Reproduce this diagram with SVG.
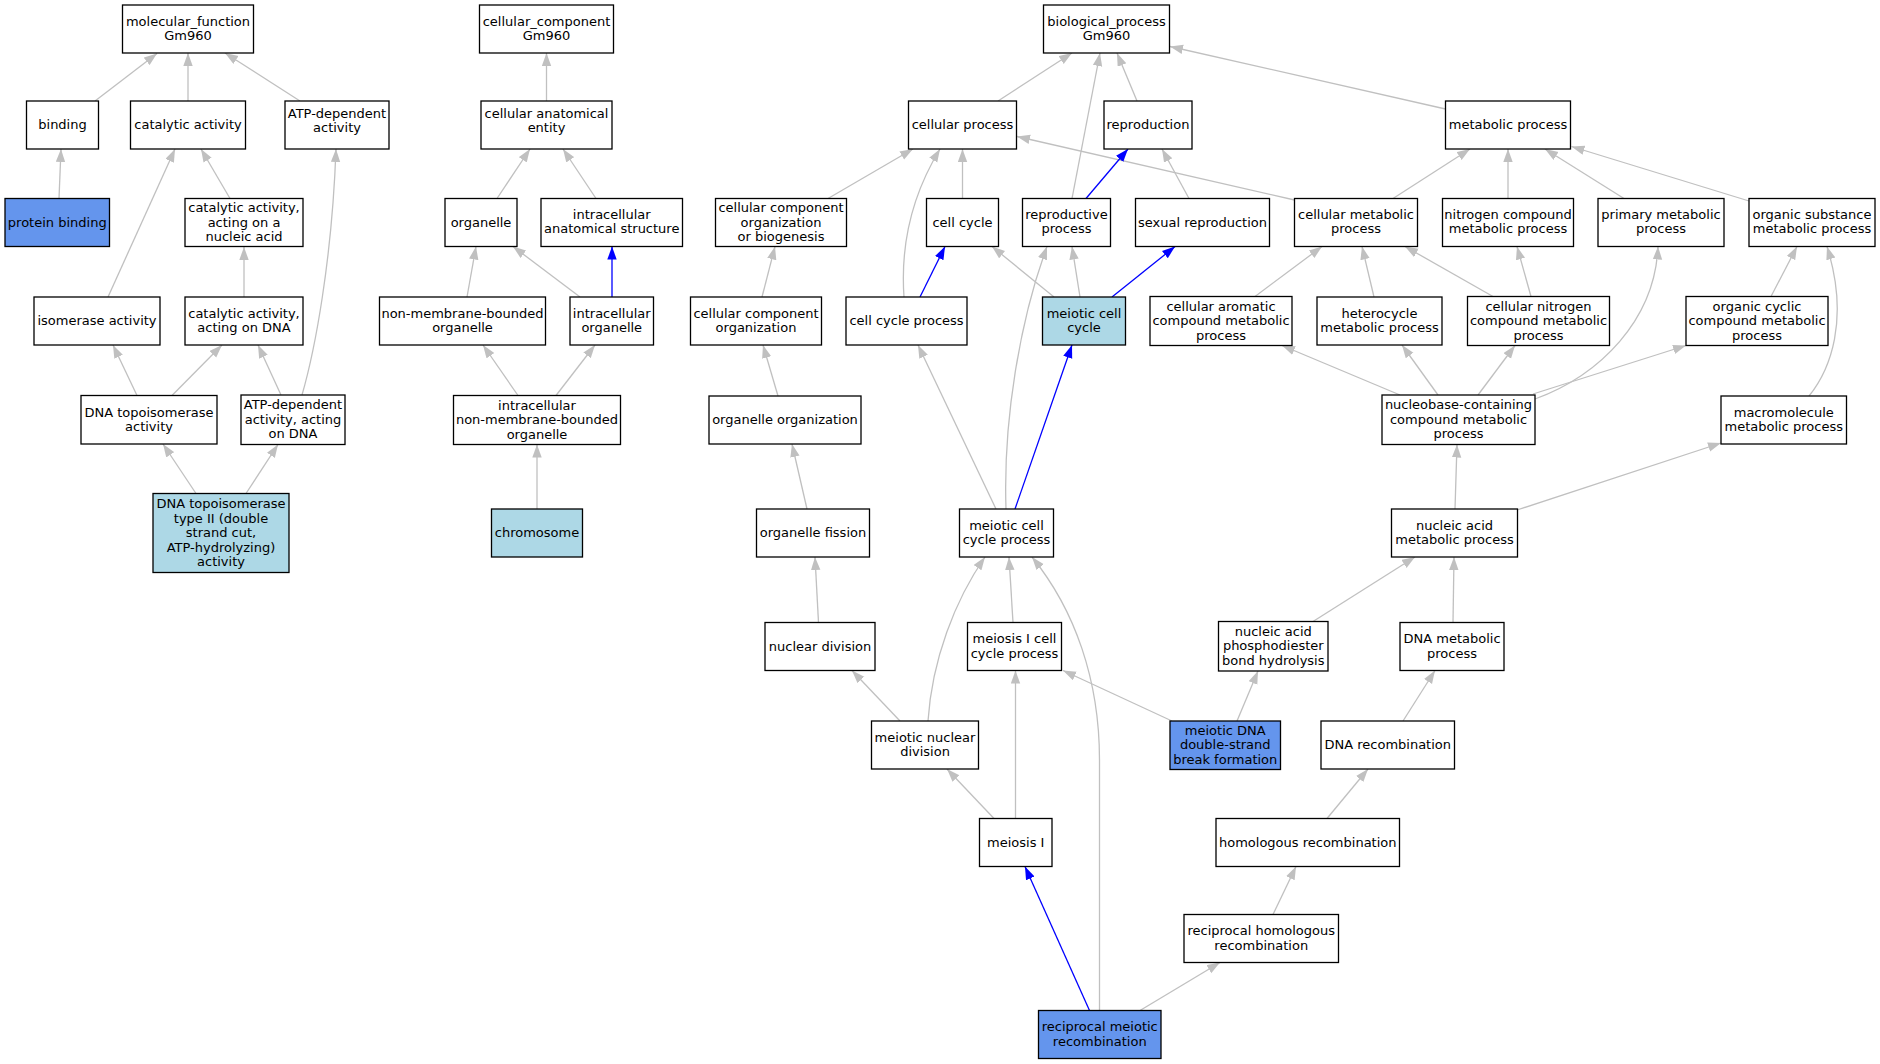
<svg xmlns="http://www.w3.org/2000/svg" width="1880" height="1064" viewBox="0 0 1880 1064">
<style>
.n rect{fill:#fff;stroke:#000;stroke-width:1.3}
.n text{font-family:"DejaVu Sans","Liberation Sans",sans-serif;font-size:13px;text-anchor:middle;fill:#000}
.lb rect{fill:#ADD8E6}
.cb rect{fill:#6495ED}
.e{fill:none;stroke:#C0C0C0;stroke-width:1.3;marker-end:url(#ag)}
.e.b{stroke:#0000FF;marker-end:url(#ab)}
</style>
<defs>
<marker id="ag" markerUnits="userSpaceOnUse" markerWidth="14" markerHeight="10" refX="13" refY="4.7" orient="auto"><path d="M0,0 L13,4.7 L0,9.4 z" fill="#C0C0C0"/></marker>
<marker id="ab" markerUnits="userSpaceOnUse" markerWidth="14" markerHeight="10" refX="13" refY="4.7" orient="auto"><path d="M0,0 L13,4.7 L0,9.4 z" fill="#0000FF"/></marker>
</defs>
<rect x="0" y="0" width="1880" height="1064" fill="#fff"/>
<g id="edges">
<path class="e" d="M95,101 L157,53.5"/>
<path class="e" d="M188,101 L188,53"/>
<path class="e" d="M300,101 L225,53"/>
<path class="e" d="M59,198.5 L61,149"/>
<path class="e" d="M108,297 L175,149"/>
<path class="e" d="M230,198.5 L201,149"/>
<path class="e" d="M244,297 L244,247"/>
<path class="e" d="M302,395 C315,350 332,260 336,149"/>
<path class="e" d="M137,395.5 L113,345"/>
<path class="e" d="M172,395.5 L222,345"/>
<path class="e" d="M281,395 L258,345"/>
<path class="e" d="M196,493.5 L163,444"/>
<path class="e" d="M246,493.5 L278,444.5"/>
<path class="e" d="M546.5,101 L546.5,53"/>
<path class="e" d="M497,198.5 L530,149"/>
<path class="e" d="M596,198.5 L563,149"/>
<path class="e" d="M467,297 L476,246.5"/>
<path class="e" d="M580,297 L513,246.5"/>
<path class="e b" d="M612,297 L612,246.5"/>
<path class="e" d="M518,395.5 L483,345"/>
<path class="e" d="M556,395.5 L595,345"/>
<path class="e" d="M537,509 L537,444.5"/>
<path class="e" d="M828,198.5 L913,149"/>
<path class="e" d="M762,297 L775,246.5"/>
<path class="e" d="M778,396 L763,345"/>
<path class="e" d="M807,509 L792,444"/>
<path class="e" d="M818.5,622.5 L815,557"/>
<path class="e" d="M900,721 L852,670.5"/>
<path class="e" d="M998,101 L1072,53"/>
<path class="e" d="M1072,198.5 L1100,53"/>
<path class="e" d="M1137,101 L1117,53"/>
<path class="e" d="M1445.5,109 L1170,46.5"/>
<path class="e" d="M962.5,198.5 L962.5,149"/>
<path class="e" d="M904,297 C900,240 915,190 940,149"/>
<path class="e" d="M1294.5,200 L1017,136.5"/>
<path class="e b" d="M1086,198.5 L1128,149"/>
<path class="e" d="M1189,198.5 L1162,149"/>
<path class="e b" d="M920,297 L945,246.5"/>
<path class="e" d="M1054,297 L992,246.5"/>
<path class="e" d="M1080,297 L1072,246.5"/>
<path class="e b" d="M1112,297 L1175,246.5"/>
<path class="e" d="M1255,296.5 L1322,246.5"/>
<path class="e" d="M1393,198.5 L1470,149"/>
<path class="e" d="M1508,198.5 L1508,149"/>
<path class="e" d="M1624,198.5 L1545,149"/>
<path class="e" d="M1749,201 L1571.5,146.5"/>
<path class="e" d="M1374,297 L1362,246.5"/>
<path class="e" d="M1493,296.5 L1405,246.5"/>
<path class="e" d="M1531,296.5 L1517,246.5"/>
<path class="e" d="M1771,296.5 L1797,246.5"/>
<path class="e" d="M1809,396 C1830,370 1850,320 1827,246.5"/>
<path class="e" d="M1400,395 L1282,345.5"/>
<path class="e" d="M1438,395 L1402,345"/>
<path class="e" d="M1478,395 L1515,345.5"/>
<path class="e" d="M1535,399 C1600,375 1655,320 1658,246.5"/>
<path class="e" d="M1533,394 L1686,345.5"/>
<path class="e" d="M996,509 L918,345"/>
<path class="e" d="M1006,509 C1003,420 1020,320 1047,246.5"/>
<path class="e b" d="M1015,509 L1072,345"/>
<path class="e" d="M1455,509 L1457,444.5"/>
<path class="e" d="M1517,510 L1721,443"/>
<path class="e" d="M1013,622.5 L1009,557"/>
<path class="e" d="M928,721 C932,660 955,600 985,557"/>
<path class="e" d="M1099.5,1010.5 L1099.5,760 C1099.5,680 1075,610 1032,557"/>
<path class="e" d="M1172,721 L1063,670.5"/>
<path class="e" d="M1237,721 L1258,671"/>
<path class="e" d="M1313,621.5 L1415,557"/>
<path class="e" d="M1453,622.5 L1454,557"/>
<path class="e" d="M1403,721 L1435,670.5"/>
<path class="e" d="M994,818.5 L947,769"/>
<path class="e" d="M1015.5,818.5 L1015.5,670.5"/>
<path class="e" d="M1327,818.5 L1368,769"/>
<path class="e b" d="M1089.5,1010.5 L1025,866.5"/>
<path class="e" d="M1140,1010.5 L1220,962.5"/>
<path class="e" d="M1273,914.5 L1296,866.5"/>
</g>
<g id="n_mf" class="n"><rect x="122.5" y="5" width="131" height="48"/><text><tspan x="188" y="25.75">molecular_function</tspan><tspan x="188" y="40.25">Gm960</tspan></text></g>
<g id="n_binding" class="n"><rect x="26.5" y="101" width="72" height="48"/><text x="62.5" y="129">binding</text></g>
<g id="n_cat" class="n"><rect x="130.5" y="101" width="115" height="48"/><text x="188" y="129">catalytic activity</text></g>
<g id="n_atpdep" class="n"><rect x="285" y="101" width="104" height="48"/><text><tspan x="337" y="117.75">ATP-dependent</tspan><tspan x="337" y="132.25">activity</tspan></text></g>
<g id="n_pb" class="n cb"><rect x="5" y="198.5" width="104.5" height="48"/><text x="57.25" y="226.5">protein binding</text></g>
<g id="n_catna" class="n"><rect x="185" y="198.5" width="118" height="48"/><text><tspan x="244" y="212">catalytic activity,</tspan><tspan x="244" y="226.5">acting on a</tspan><tspan x="244" y="241">nucleic acid</tspan></text></g>
<g id="n_iso" class="n"><rect x="34" y="297" width="126" height="48"/><text x="97" y="325">isomerase activity</text></g>
<g id="n_catdna" class="n"><rect x="185" y="297" width="118" height="48"/><text><tspan x="244" y="317.75">catalytic activity,</tspan><tspan x="244" y="332.25">acting on DNA</tspan></text></g>
<g id="n_topo" class="n"><rect x="81" y="395.5" width="136" height="48.5"/><text><tspan x="149" y="416.5">DNA topoisomerase</tspan><tspan x="149" y="431">activity</tspan></text></g>
<g id="n_atpdna" class="n"><rect x="241" y="395" width="104" height="49.5"/><text><tspan x="293" y="409.25">ATP-dependent</tspan><tspan x="293" y="423.75">activity, acting</tspan><tspan x="293" y="438.25">on DNA</tspan></text></g>
<g id="n_topo2" class="n lb"><rect x="153" y="493.5" width="136" height="79"/><text><tspan x="221" y="508">DNA topoisomerase</tspan><tspan x="221" y="522.5">type II (double</tspan><tspan x="221" y="537">strand cut,</tspan><tspan x="221" y="551.5">ATP-hydrolyzing)</tspan><tspan x="221" y="566">activity</tspan></text></g>
<g id="n_cc" class="n"><rect x="479.5" y="5" width="134" height="48"/><text><tspan x="546.5" y="25.75">cellular_component</tspan><tspan x="546.5" y="40.25">Gm960</tspan></text></g>
<g id="n_cae" class="n"><rect x="481" y="101" width="131" height="48"/><text><tspan x="546.5" y="117.75">cellular anatomical</tspan><tspan x="546.5" y="132.25">entity</tspan></text></g>
<g id="n_organelle" class="n"><rect x="445" y="198.5" width="72" height="48"/><text x="481" y="226.5">organelle</text></g>
<g id="n_ias" class="n"><rect x="541" y="198.5" width="141.5" height="48"/><text><tspan x="611.75" y="218.75">intracellular</tspan><tspan x="611.75" y="233.25">anatomical structure</tspan></text></g>
<g id="n_nmbo" class="n"><rect x="379.5" y="297" width="166" height="48"/><text><tspan x="462.5" y="317.75">non-membrane-bounded</tspan><tspan x="462.5" y="332.25">organelle</tspan></text></g>
<g id="n_io" class="n"><rect x="570" y="297" width="83.5" height="48"/><text><tspan x="611.75" y="317.75">intracellular</tspan><tspan x="611.75" y="332.25">organelle</tspan></text></g>
<g id="n_inmbo" class="n"><rect x="453.5" y="395.5" width="167" height="49"/><text><tspan x="537" y="409.5">intracellular</tspan><tspan x="537" y="424">non-membrane-bounded</tspan><tspan x="537" y="438.5">organelle</tspan></text></g>
<g id="n_chrom" class="n lb"><rect x="491.5" y="509" width="91" height="48"/><text x="537" y="537">chromosome</text></g>
<g id="n_ccob" class="n"><rect x="715.5" y="198.5" width="131" height="48"/><text><tspan x="781" y="212">cellular component</tspan><tspan x="781" y="226.5">organization</tspan><tspan x="781" y="241">or biogenesis</tspan></text></g>
<g id="n_cco" class="n"><rect x="690.5" y="297" width="131" height="48"/><text><tspan x="756" y="317.75">cellular component</tspan><tspan x="756" y="332.25">organization</tspan></text></g>
<g id="n_oo" class="n"><rect x="709" y="396" width="152" height="48"/><text x="785" y="424">organelle organization</text></g>
<g id="n_of" class="n"><rect x="756.5" y="509" width="113" height="48"/><text x="813" y="537">organelle fission</text></g>
<g id="n_nd" class="n"><rect x="765" y="622.5" width="110" height="48"/><text x="820" y="650.5">nuclear division</text></g>
<g id="n_bp" class="n"><rect x="1043.5" y="5" width="126" height="48"/><text><tspan x="1106.5" y="25.75">biological_process</tspan><tspan x="1106.5" y="40.25">Gm960</tspan></text></g>
<g id="n_cp" class="n"><rect x="908.5" y="101" width="108" height="48"/><text x="962.5" y="129">cellular process</text></g>
<g id="n_repro" class="n"><rect x="1104" y="101" width="88" height="48"/><text x="1148" y="129">reproduction</text></g>
<g id="n_mp" class="n"><rect x="1445.5" y="101" width="125" height="48"/><text x="1508" y="129">metabolic process</text></g>
<g id="n_cellcycle" class="n"><rect x="926.5" y="198.5" width="72" height="48"/><text x="962.5" y="226.5">cell cycle</text></g>
<g id="n_rp" class="n"><rect x="1022.5" y="198.5" width="88" height="48"/><text><tspan x="1066.5" y="218.75">reproductive</tspan><tspan x="1066.5" y="233.25">process</tspan></text></g>
<g id="n_sr" class="n"><rect x="1135.5" y="198.5" width="134" height="48"/><text x="1202.5" y="226.5">sexual reproduction</text></g>
<g id="n_cmp" class="n"><rect x="1294.5" y="198.5" width="123" height="48"/><text><tspan x="1356" y="218.75">cellular metabolic</tspan><tspan x="1356" y="233.25">process</tspan></text></g>
<g id="n_ncmp" class="n"><rect x="1442.5" y="198.5" width="131" height="48"/><text><tspan x="1508" y="218.75">nitrogen compound</tspan><tspan x="1508" y="233.25">metabolic process</tspan></text></g>
<g id="n_pmp" class="n"><rect x="1598" y="198.5" width="126" height="48"/><text><tspan x="1661" y="218.75">primary metabolic</tspan><tspan x="1661" y="233.25">process</tspan></text></g>
<g id="n_osmp" class="n"><rect x="1749" y="198.5" width="126" height="48"/><text><tspan x="1812" y="218.75">organic substance</tspan><tspan x="1812" y="233.25">metabolic process</tspan></text></g>
<g id="n_ccp" class="n"><rect x="846" y="297" width="121" height="48"/><text x="906.5" y="325">cell cycle process</text></g>
<g id="n_mcc" class="n lb"><rect x="1042.5" y="297" width="83" height="48"/><text><tspan x="1084" y="317.75">meiotic cell</tspan><tspan x="1084" y="332.25">cycle</tspan></text></g>
<g id="n_camp" class="n"><rect x="1150" y="296.5" width="142" height="49"/><text><tspan x="1221" y="310.5">cellular aromatic</tspan><tspan x="1221" y="325">compound metabolic</tspan><tspan x="1221" y="339.5">process</tspan></text></g>
<g id="n_hmp" class="n"><rect x="1317" y="297" width="125" height="48"/><text><tspan x="1379.5" y="317.75">heterocycle</tspan><tspan x="1379.5" y="332.25">metabolic process</tspan></text></g>
<g id="n_cncmp" class="n"><rect x="1467.5" y="296.5" width="142" height="49"/><text><tspan x="1538.5" y="310.5">cellular nitrogen</tspan><tspan x="1538.5" y="325">compound metabolic</tspan><tspan x="1538.5" y="339.5">process</tspan></text></g>
<g id="n_occmp" class="n"><rect x="1686" y="296.5" width="142" height="49"/><text><tspan x="1757" y="310.5">organic cyclic</tspan><tspan x="1757" y="325">compound metabolic</tspan><tspan x="1757" y="339.5">process</tspan></text></g>
<g id="n_nccmp" class="n"><rect x="1382" y="395" width="153" height="49.5"/><text><tspan x="1458.5" y="409.25">nucleobase-containing</tspan><tspan x="1458.5" y="423.75">compound metabolic</tspan><tspan x="1458.5" y="438.25">process</tspan></text></g>
<g id="n_mmp" class="n"><rect x="1721" y="396" width="125.5" height="48"/><text><tspan x="1783.75" y="416.75">macromolecule</tspan><tspan x="1783.75" y="431.25">metabolic process</tspan></text></g>
<g id="n_mccp" class="n"><rect x="959.5" y="509" width="94" height="48"/><text><tspan x="1006.5" y="529.75">meiotic cell</tspan><tspan x="1006.5" y="544.25">cycle process</tspan></text></g>
<g id="n_namp" class="n"><rect x="1391.5" y="509" width="126" height="48"/><text><tspan x="1454.5" y="529.75">nucleic acid</tspan><tspan x="1454.5" y="544.25">metabolic process</tspan></text></g>
<g id="n_miccp" class="n"><rect x="967.5" y="622.5" width="94" height="48"/><text><tspan x="1014.5" y="643.25">meiosis I cell</tspan><tspan x="1014.5" y="657.75">cycle process</tspan></text></g>
<g id="n_napbh" class="n"><rect x="1218.5" y="621.5" width="109.5" height="49.5"/><text><tspan x="1273.25" y="635.75">nucleic acid</tspan><tspan x="1273.25" y="650.25">phosphodiester</tspan><tspan x="1273.25" y="664.75">bond hydrolysis</tspan></text></g>
<g id="n_dmp" class="n"><rect x="1400" y="622.5" width="104" height="48"/><text><tspan x="1452" y="643.25">DNA metabolic</tspan><tspan x="1452" y="657.75">process</tspan></text></g>
<g id="n_mnd" class="n"><rect x="871.5" y="721" width="107" height="48"/><text><tspan x="925" y="741.75">meiotic nuclear</tspan><tspan x="925" y="756.25">division</tspan></text></g>
<g id="n_mdsb" class="n cb"><rect x="1170" y="721" width="110.5" height="48.5"/><text><tspan x="1225.25" y="734.75">meiotic DNA</tspan><tspan x="1225.25" y="749.25">double-strand</tspan><tspan x="1225.25" y="763.75">break formation</tspan></text></g>
<g id="n_dr" class="n"><rect x="1321" y="721" width="133.5" height="48"/><text x="1387.75" y="749">DNA recombination</text></g>
<g id="n_mi" class="n"><rect x="979.5" y="818.5" width="72.5" height="48"/><text x="1015.75" y="846.5">meiosis I</text></g>
<g id="n_hr" class="n"><rect x="1216" y="818.5" width="183.5" height="48"/><text x="1307.75" y="846.5">homologous recombination</text></g>
<g id="n_rhr" class="n"><rect x="1184" y="914.5" width="154.5" height="48"/><text><tspan x="1261.25" y="935.25">reciprocal homologous</tspan><tspan x="1261.25" y="949.75">recombination</tspan></text></g>
<g id="n_rmr" class="n cb"><rect x="1038.5" y="1010.5" width="122.5" height="48"/><text><tspan x="1099.75" y="1031.25">reciprocal meiotic</tspan><tspan x="1099.75" y="1045.75">recombination</tspan></text></g>
</svg>
